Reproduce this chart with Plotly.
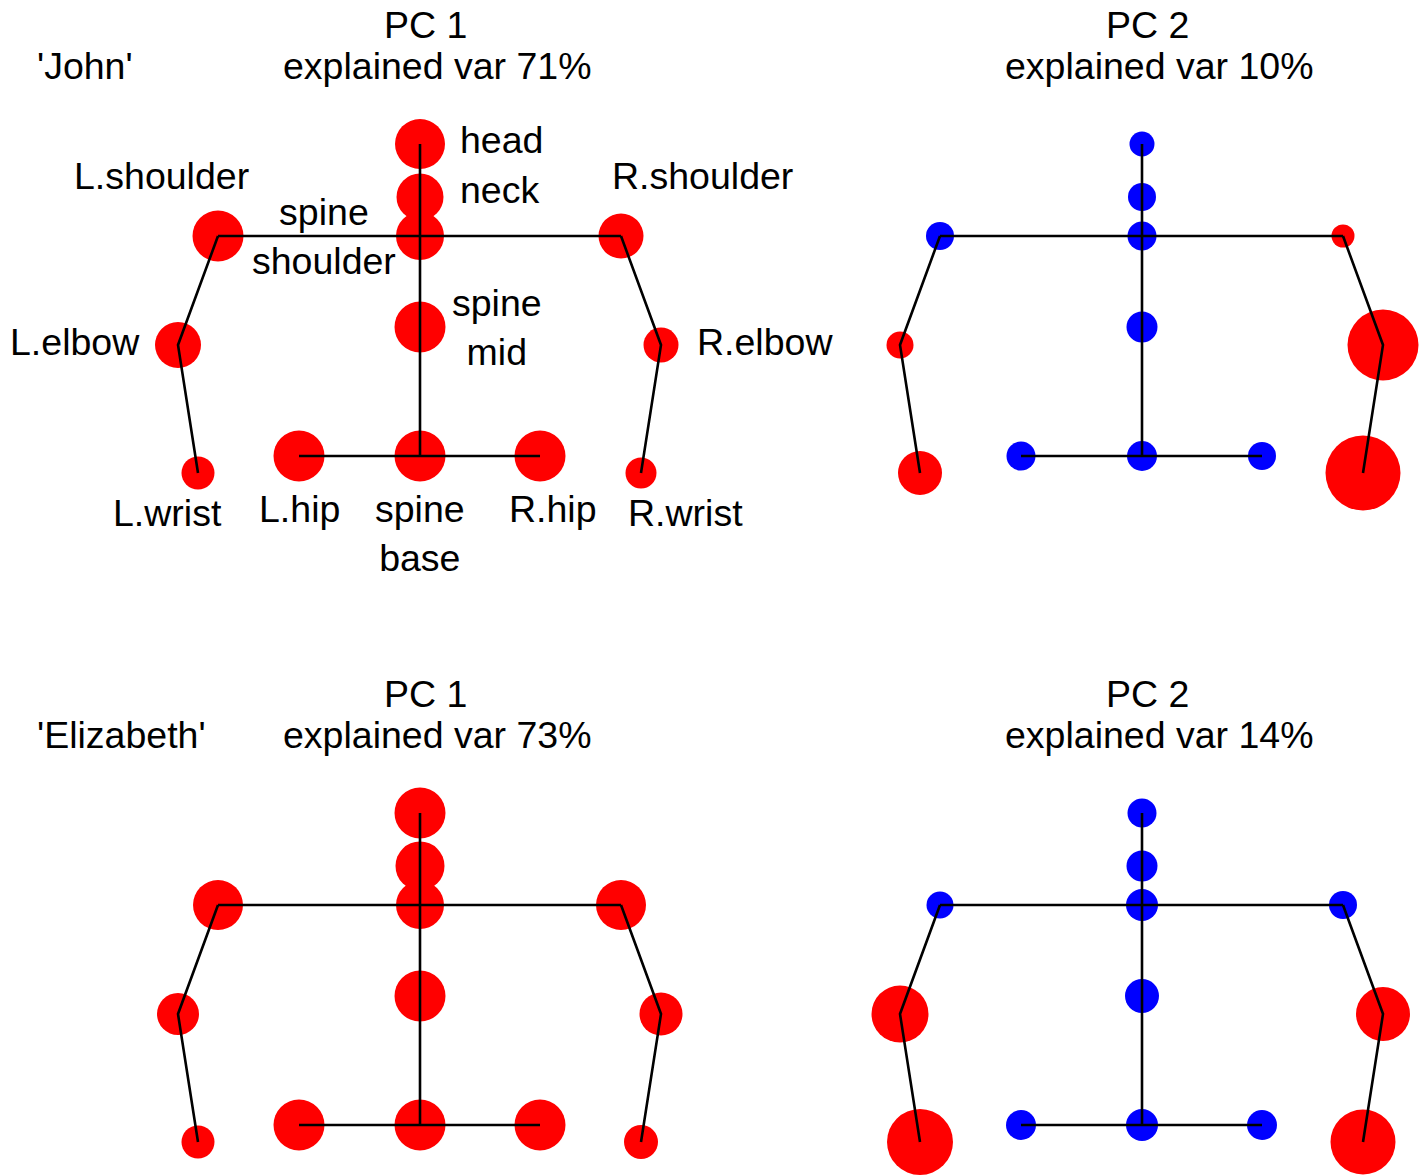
import plotly.graph_objects as go

# Skeleton joints (x, y) in units of 100 px, spine base at the origin
joints = ["head", "neck", "spine shoulder", "spine mid", "spine base",
          "L.shoulder", "L.elbow", "L.wrist",
          "R.shoulder", "R.elbow", "R.wrist",
          "L.hip", "R.hip"]
joint_x = [0.0, 0.0, 0.0, 0.0, 0.0, -2.02, -2.42, -2.22, 2.01, 2.41, 2.21, -1.21, 1.20]
joint_y = [3.12, 2.59, 2.20, 1.29, 0.0, 2.20, 1.11, -0.17, 2.20, 1.11, -0.17, 0.0, 0.0]

# Bones drawn as polylines through joint names
bones = [
    ["head", "neck", "spine shoulder", "spine mid", "spine base"],
    ["L.shoulder", "spine shoulder", "R.shoulder"],
    ["L.shoulder", "L.elbow", "L.wrist"],
    ["R.shoulder", "R.elbow", "R.wrist"],
    ["L.hip", "spine base", "R.hip"],
]

# Principal component loadings per joint (same order as `joints`)
john_pc1 = [0.250, 0.235, 0.240, 0.255, 0.255, 0.255, 0.230, 0.165, 0.225, 0.175, 0.155, 0.255, 0.255]
john_pc2 = [-0.125, -0.140, -0.145, -0.155, -0.150, -0.140, 0.135, 0.220, 0.115, 0.355, 0.375, -0.145, -0.140]
eliz_pc1 = [0.255, 0.245, 0.240, 0.255, 0.255, 0.250, 0.210, 0.165, 0.250, 0.215, 0.170, 0.255, 0.255]
eliz_pc2 = [-0.145, -0.155, -0.160, -0.170, -0.160, -0.135, 0.285, 0.330, -0.140, 0.270, 0.325, -0.150, -0.150]

subjects = ["'John'", "'John'", "'Elizabeth'", "'Elizabeth'"]
pc_titles = ["PC 1", "PC 2", "PC 1", "PC 2"]
explained_var = [71, 10, 73, 14]
loadings = [john_pc1, john_pc2, eliz_pc1, eliz_pc2]

# Joint name labels shown on the first panel: (text, x, y, xanchor)
joint_labels = [
    ("head", 0.38, 3.16, "left"),
    ("neck", 0.38, 2.66, "left"),
    ("L.shoulder", -2.59, 2.80, "center"),
    ("R.shoulder", 2.825, 2.80, "center"),
    ("spine<br>shoulder", -0.96, 2.20, "center"),
    ("spine<br>mid", 0.77, 1.29, "center"),
    ("L.elbow", -2.78, 1.14, "right"),
    ("R.elbow", 2.75, 1.14, "left"),
    ("L.wrist", -2.53, -0.57, "center"),
    ("L.hip", -1.21, -0.53, "center"),
    ("spine<br>base", 0.0, -0.77, "center"),
    ("R.hip", 1.325, -0.53, "center"),
    ("R.wrist", 2.65, -0.57, "center"),
]

SIZE_SCALE = 200  # marker diameter (px) per unit loading
FONT = dict(family="Liberation Sans, Arial, sans-serif", size=37.5, color="black")

pos = {n: (x, y) for n, x, y in zip(joints, joint_x, joint_y)}
bone_x, bone_y = [], []
for chain in bones:
    bone_x += [pos[n][0] for n in chain] + [None]
    bone_y += [pos[n][1] for n in chain] + [None]

fig = go.Figure()
annotations = []
axis_ids = ["", "2", "3", "4"]

for k, w in enumerate(loadings):
    ax = axis_ids[k]
    xr, yr = "x" + ax, "y" + ax
    fig.add_trace(go.Scatter(
        x=joint_x, y=joint_y, mode="markers", xaxis=xr, yaxis=yr,
        marker=dict(size=[SIZE_SCALE * abs(v) for v in w],
                    color=["#ff0000" if v > 0 else "#0000ff" for v in w],
                    line=dict(width=0), opacity=1),
        cliponaxis=False, hoverinfo="skip", showlegend=False))
    fig.add_trace(go.Scatter(
        x=bone_x, y=bone_y, mode="lines", xaxis=xr, yaxis=yr,
        line=dict(color="black", width=2.6),
        cliponaxis=False, hoverinfo="skip", showlegend=False))

    annotations.append(dict(text=pc_titles[k], x=0.05, y=4.31, xref=xr, yref=yr,
                            xanchor="center", yanchor="middle", showarrow=False, font=FONT))
    annotations.append(dict(text=f"explained var {explained_var[k]}%", x=0.17, y=3.90,
                            xref=xr, yref=yr, xanchor="center", yanchor="middle",
                            showarrow=False, font=FONT))
    if k % 2 == 0:
        annotations.append(dict(text=subjects[k], x=-3.85, y=3.90, xref=xr, yref=yr,
                                xanchor="left", yanchor="middle", showarrow=False, font=FONT))

for text, x, y, xa in joint_labels:
    annotations.append(dict(text=text, x=x, y=y, xref="x", yref="y", xanchor=xa,
                            yanchor="middle", align="center", showarrow=False, font=FONT))

hidden = dict(visible=False, showgrid=False, zeroline=False, fixedrange=True)
fig.update_layout(
    width=1427, height=1175,
    margin=dict(l=0, r=0, t=0, b=0),
    paper_bgcolor="white", plot_bgcolor="white",
    showlegend=False,
    annotations=annotations,
    xaxis=dict(domain=[0, 0.5], range=[-4.20, 2.935], anchor="y", **hidden),
    yaxis=dict(domain=[0.5, 1], range=[-1.315, 4.56], anchor="x", **hidden),
    xaxis2=dict(domain=[0.5, 1], range=[-4.285, 2.85], anchor="y2", **hidden),
    yaxis2=dict(domain=[0.5, 1], range=[-1.315, 4.56], anchor="x2", **hidden),
    xaxis3=dict(domain=[0, 0.5], range=[-4.20, 2.935], anchor="y3", **hidden),
    yaxis3=dict(domain=[0, 0.5], range=[-0.50, 5.375], anchor="x3", **hidden),
    xaxis4=dict(domain=[0.5, 1], range=[-4.285, 2.85], anchor="y4", **hidden),
    yaxis4=dict(domain=[0, 0.5], range=[-0.50, 5.375], anchor="x4", **hidden),
)

fig.write_html("out.html")
